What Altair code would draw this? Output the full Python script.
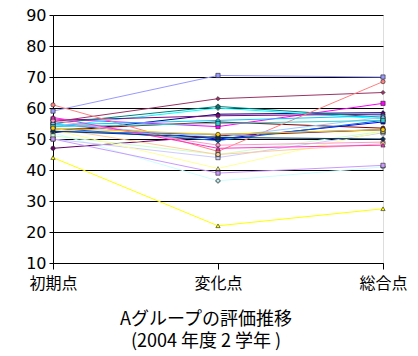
import altair as alt
import pandas as pd

categories = ["初期点", "変化点", "総合点"]

series_names = [f"S{i:02d}" for i in range(1, 29)]
series_colors = [
    "#000080", "#FF00FF", "#FFFF00", "#00FFFF", "#800080", "#800000", "#008080",
    "#0000FF", "#9999FF", "#993366", "#FFFFCC", "#CCFFFF", "#660066", "#FF8080",
    "#0066CC", "#CCCCFF", "#00CCFF", "#CCFFCC", "#FFFF99", "#99CCFF", "#FF99CC",
    "#CC99FF", "#FFCC99", "#3366FF", "#33CCCC", "#FF33CC", "#003366", "#FFCC00",
]
series_shapes = [
    "diamond", "square", "triangle-up", "cross", "circle", "circle", "cross",
    "square", "square", "diamond", "triangle-up", "cross", "circle", "circle",
    "cross", "square", "diamond", "square", "triangle-up", "cross", "circle",
    "square", "circle", "diamond", "square", "triangle-up", "cross", "circle",
]

shoki = [52, 56.5, 44, 54, 56, 53, 55, 55, 59, 55.5, 53, 52, 47, 61,
         53.5, 50, 54.5, 51, 53, 55, 56, 50, 53.5, 52.5, 54, 57, 52.5, 53.5]
henka = [58, 54, 22, 60, 57.5, 55.5, 60.5, 50, 70.5, 63, 51, 36.5, 51, 46,
         49.5, 44, 56, 45, 40.5, 50.5, 48, 39, 45, 51.5, 55, 47, 50.5, 51.5]
sougou = [58.5, 61.5, 27.5, 56.5, 58, 53.5, 57, 55.5, 70, 65, 52.5, 41, 53, 68.5,
          56, 52, 57.5, 52.5, 52.5, 57, 49, 41.5, 48.5, 53, 56, 48, 50, 53]

rows = []
for i, name in enumerate(series_names):
    for cat, vals in zip(categories, [shoki, henka, sougou]):
        rows.append({"series": name, "cat": cat, "value": vals[i]})
df = pd.DataFrame(rows)

x = alt.X("cat:N", sort=categories, scale=alt.Scale(type="point", padding=0),
          axis=alt.Axis(title=None, labelAngle=0, labelFont="Noto Sans CJK JP",
                        labelFontSize=16, labelColor="black", labelPadding=6,
                        tickColor="black", tickSize=6, domainColor="black",
                        domainWidth=1, grid=False))
y = alt.Y("value:Q", scale=alt.Scale(domain=[10, 90], nice=False, zero=False),
          axis=alt.Axis(title=None, values=list(range(10, 91, 10)),
                        labelFont="DejaVu Sans", labelFontSize=16,
                        labelColor="black", labelPadding=3, tickColor="black",
                        tickSize=4, domainColor="black", gridColor="black",
                        gridOpacity=1, gridWidth=1))
color = alt.Color("series:N", scale=alt.Scale(domain=series_names, range=series_colors),
                  legend=None)
shape = alt.Shape("series:N", scale=alt.Scale(domain=series_names, range=series_shapes),
                  legend=None)

lines = alt.Chart(df).mark_line(strokeWidth=1).encode(x=x, y=y, color=color, detail="series:N")
points = alt.Chart(df).mark_point(filled=True, size=18, stroke="#222222", strokeWidth=0.6,
                                  opacity=1).encode(x=x, y=y, fill=color, shape=shape)

chart = alt.layer(lines, points).properties(
    width=330, height=248,
    autosize=alt.AutoSizeParams(type="none"),
    padding={"left": 45, "top": 7, "right": 27, "bottom": 100},
    title=alt.TitleParams(
        text=["Aグループの評価推移", "(2004 年度 2 学年 )"],
        orient="bottom", font="Noto Sans CJK JP", fontSize=18, fontWeight="normal",
        color="black", lineHeight=22, offset=20, dx=-12, anchor="middle",
    ),
).configure_view(stroke=None).configure(background="white")

chart.save("out.html", embed_options={"renderer": "svg", "actions": False})
